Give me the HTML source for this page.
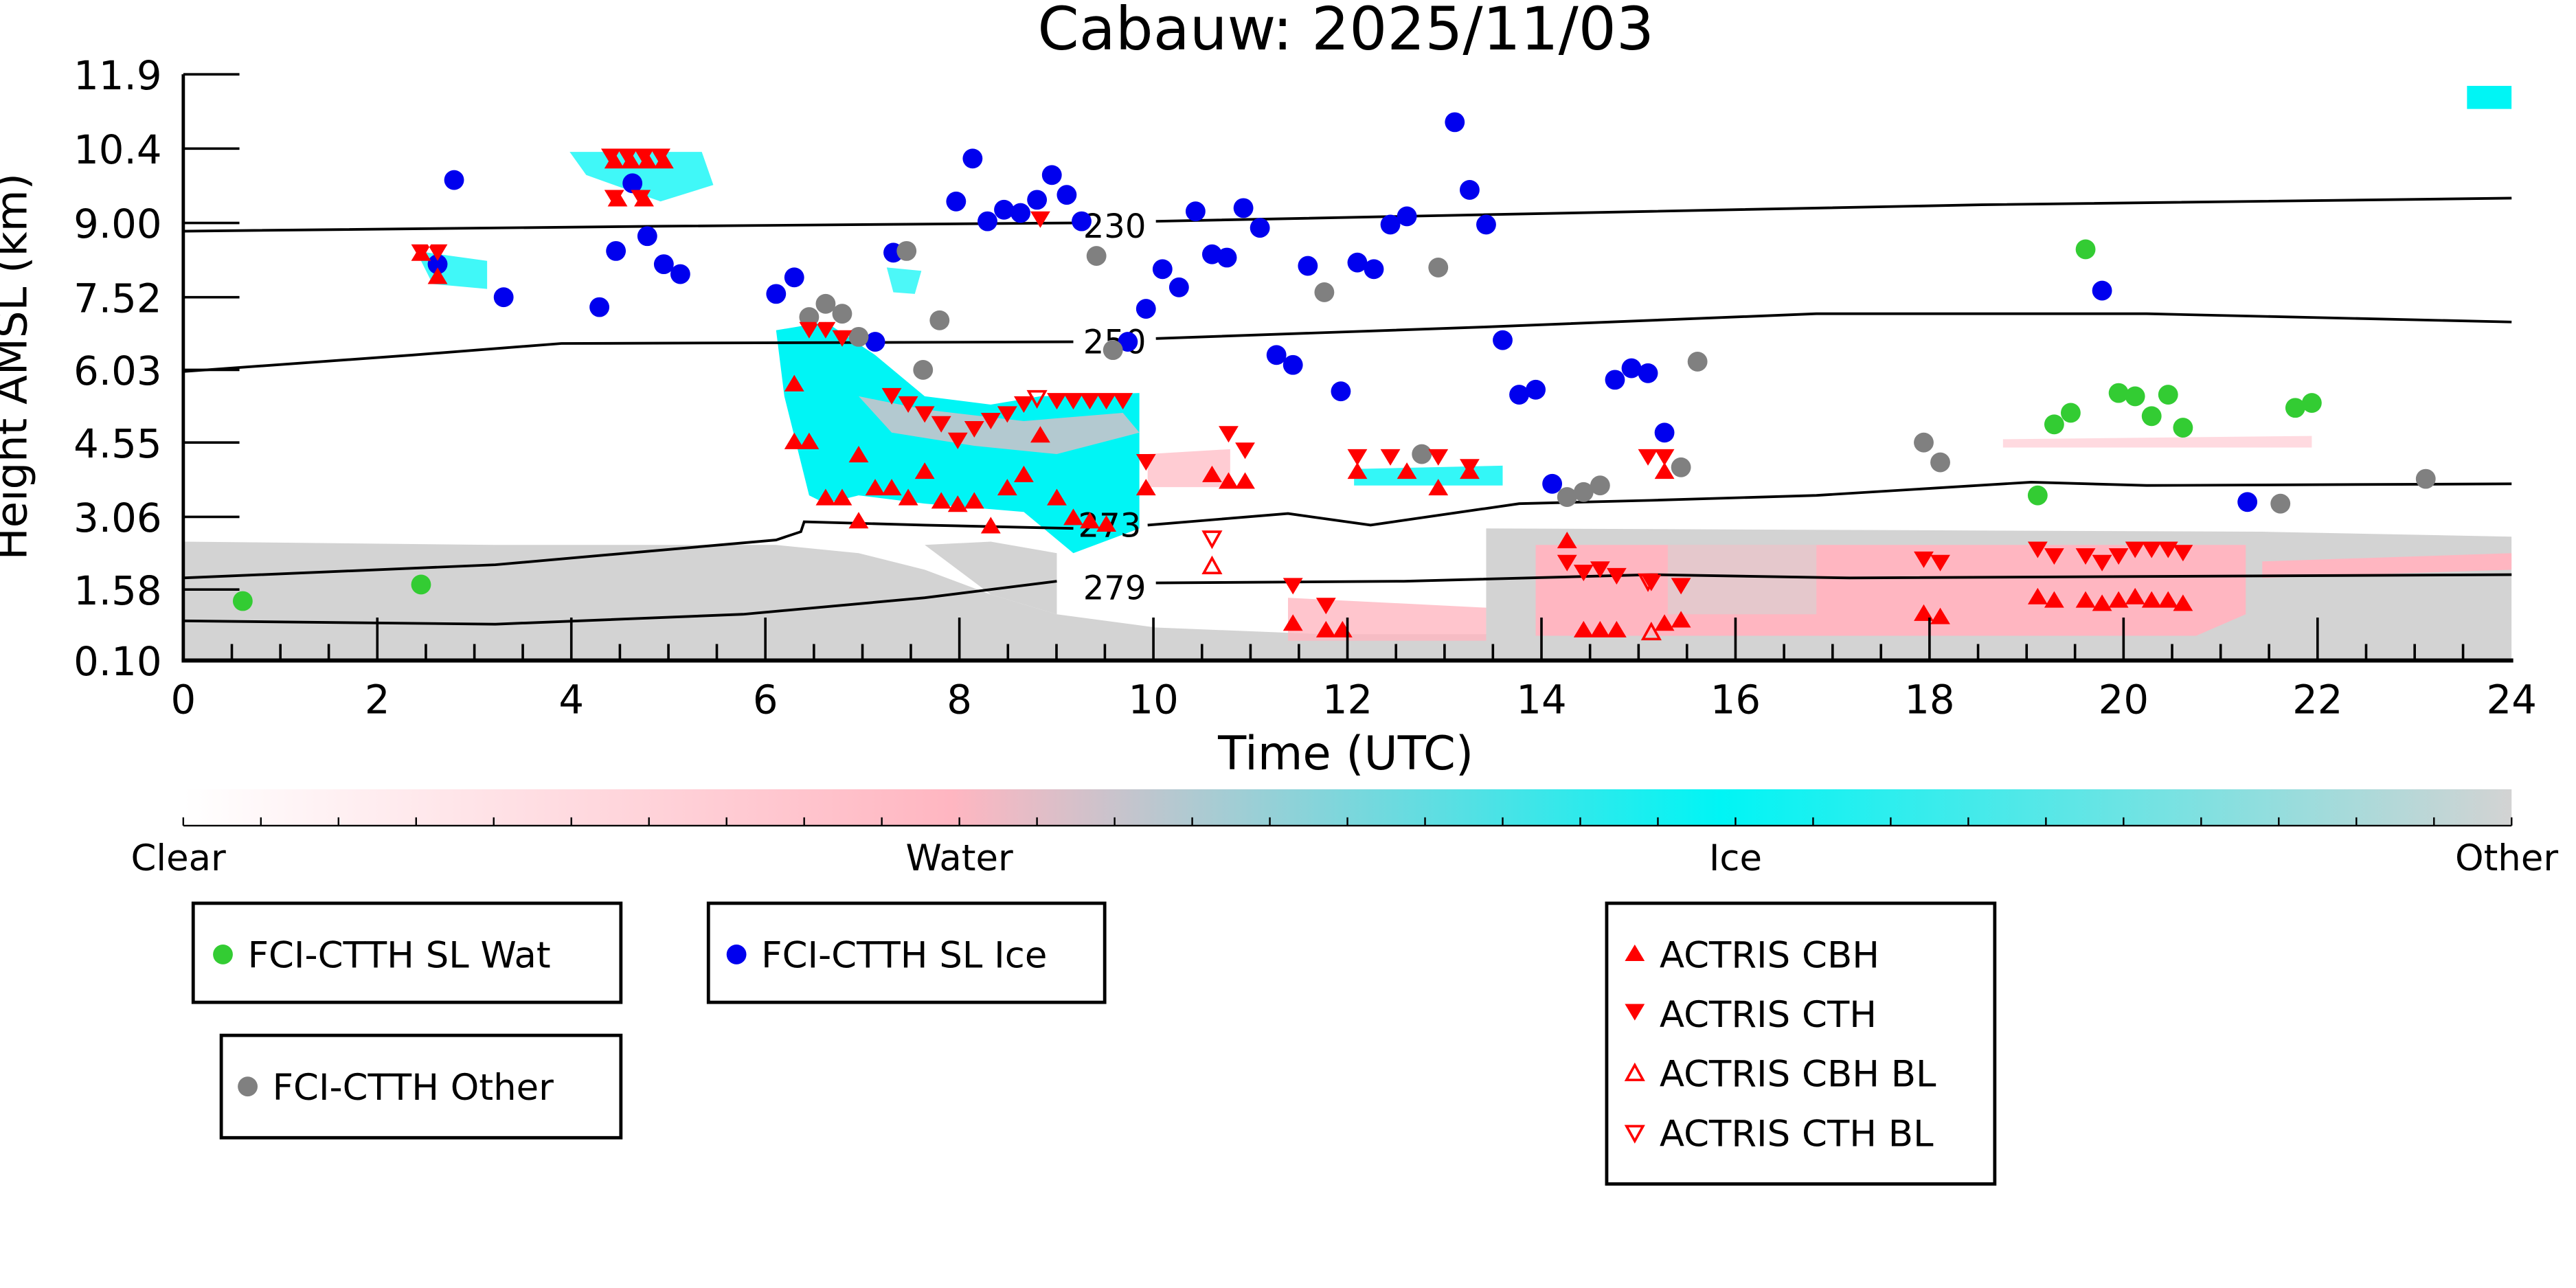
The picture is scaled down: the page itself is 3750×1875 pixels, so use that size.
<!DOCTYPE html>
<html><head><meta charset="utf-8"><style>
html,body{margin:0;padding:0;background:#fff;}
svg{display:block;}
text{font-family:"DejaVu Sans","Liberation Sans",sans-serif;}
</style></head><body>
<svg width="3750" height="1875" viewBox="0 0 1560 780" xmlns="http://www.w3.org/2000/svg">
<defs>
<linearGradient id="cb" x1="0" x2="1" y1="0" y2="0">
<stop offset="0" stop-color="#ffffff"/>
<stop offset="0.33" stop-color="#ffb6c1"/>
<stop offset="0.66" stop-color="#00f5f5"/>
<stop offset="1" stop-color="#d3d3d3"/>
</linearGradient>
<clipPath id="pa"><rect x="111" y="45" width="1410" height="355"/></clipPath>
</defs>
<rect width="1560" height="780" fill="#fff"/>
<text x="815" y="30" font-size="36" text-anchor="middle">Cabauw: 2025/11/03</text>
<g clip-path="url(#pa)">
<polygon fill="#d3d3d3" points="111,328 300,330 470,330 520,335 560,345 600,360 640,372 700,380 800,384 900,384 900,320 1370,322 1521,325 1521,400 111,400"/>
<polygon fill="#d3d3d3" points="560,330 600,328 640,335 640,372 600,360"/>
<polygon fill="#ffb6c1" points="930,330 1360,330 1360,372 1330,385 930,385"/>
<polygon fill="#d3d3d3" opacity="0.6" points="1010,330 1100,330 1100,372 1010,372"/>
<polygon fill="#ffb6c1" points="1370,340 1521,335 1521,345 1370,350"/>
<polygon fill="#ffb6c1" opacity="0.8" points="780,362 900,368 900,388 780,388"/>
<polygon fill="#ffb6c1" opacity="0.7" points="695,275 745,272 745,295 695,295"/>
<polygon fill="#00f5f5" points="470,200 500,195 530,215 560,240 600,245 630,240 690,238 690,320 650,335 620,310 560,305 520,300 500,305 490,300 475,240"/>
<polygon fill="#ffb6c1" opacity="0.7" points="520,240 560,248 620,255 680,250 690,262 640,275 590,270 540,262"/>
<polygon fill="#00f5f5" opacity="0.75" points="345,92 425,92 432,112 400,122 355,106"/>
<polygon fill="#00f5f5" opacity="0.75" points="252,152 295,158 295,175 262,172"/>
<polygon fill="#00f5f5" opacity="0.8" points="820,284 910,282 910,294 820,294"/>
<polygon fill="#00f5f5" points="1494,52 1521,52 1521,66 1494,66"/>
<polygon fill="#ffb6c1" opacity="0.5" points="1213,266 1400,264 1400,271 1213,271"/>
<polygon fill="#00f5f5" opacity="0.7" points="537,162 558,164 554,178 541,177"/>
</g>
<g fill="none" stroke="#000" stroke-width="1.6">
<polyline points="111,140 400,137 650,135"/><polyline points="700,134 1000,128 1200,124 1521,120"/>
<polyline points="111,225 250,215 340,208 650,207"/><polyline points="700,205 900,198 1100,190 1300,190 1521,195"/>
<polyline points="111,350 300,342 470,327 485,322 487,316 560,318 650,320"/><polyline points="695,318 780,311 830,318 920,305 1000,303 1100,300 1230,292 1300,294 1521,293"/>
<polyline points="111,376 300,378 450,372 560,362 640,352"/><polyline points="700,353 850,352 1000,348 1120,350 1521,348"/>
</g>
<g font-size="20" text-anchor="middle">
<text x="675" y="144">230</text><text x="675" y="214">250</text><text x="672" y="325">273</text><text x="675" y="363">279</text>
</g>
<g fill="#0000ee">
<circle cx="275" cy="109" r="6"/><circle cx="305" cy="180" r="6"/><circle cx="363" cy="186" r="6"/><circle cx="373" cy="152" r="6"/><circle cx="383" cy="111" r="6"/><circle cx="392" cy="143" r="6"/><circle cx="402" cy="160" r="6"/><circle cx="412" cy="166" r="6"/><circle cx="470" cy="178" r="6"/><circle cx="481" cy="168" r="6"/><circle cx="530" cy="207" r="6"/><circle cx="541" cy="153" r="6"/><circle cx="589" cy="96" r="6"/><circle cx="579" cy="122" r="6"/><circle cx="598" cy="134" r="6"/><circle cx="608" cy="127" r="6"/><circle cx="618" cy="129" r="6"/><circle cx="628" cy="121" r="6"/><circle cx="637" cy="106" r="6"/><circle cx="646" cy="118" r="6"/><circle cx="655" cy="134" r="6"/><circle cx="694" cy="187" r="6"/><circle cx="704" cy="163" r="6"/><circle cx="714" cy="174" r="6"/><circle cx="724" cy="128" r="6"/><circle cx="734" cy="154" r="6"/><circle cx="743" cy="156" r="6"/><circle cx="753" cy="126" r="6"/><circle cx="763" cy="138" r="6"/><circle cx="773" cy="215" r="6"/><circle cx="783" cy="221" r="6"/><circle cx="792" cy="161" r="6"/><circle cx="812" cy="237" r="6"/><circle cx="822" cy="159" r="6"/><circle cx="832" cy="163" r="6"/><circle cx="842" cy="136" r="6"/><circle cx="852" cy="131" r="6"/><circle cx="881" cy="74" r="6"/><circle cx="890" cy="115" r="6"/><circle cx="900" cy="136" r="6"/><circle cx="910" cy="206" r="6"/><circle cx="920" cy="239" r="6"/><circle cx="930" cy="236" r="6"/><circle cx="940" cy="293" r="6"/><circle cx="978" cy="230" r="6"/><circle cx="988" cy="223" r="6"/><circle cx="998" cy="226" r="6"/><circle cx="1008" cy="262" r="6"/><circle cx="1273" cy="176" r="6"/><circle cx="1361" cy="304" r="6"/><circle cx="265" cy="160" r="6"/><circle cx="683" cy="207" r="6"/>
</g>
<g fill="#808080">
<circle cx="490" cy="192" r="6"/><circle cx="500" cy="184" r="6"/><circle cx="510" cy="190" r="6"/><circle cx="520" cy="204" r="6"/><circle cx="549" cy="152" r="6"/><circle cx="569" cy="194" r="6"/><circle cx="559" cy="224" r="6"/><circle cx="664" cy="155" r="6"/><circle cx="674" cy="212" r="6"/><circle cx="802" cy="177" r="6"/><circle cx="871" cy="162" r="6"/><circle cx="861" cy="275" r="6"/><circle cx="949" cy="301" r="6"/><circle cx="959" cy="298" r="6"/><circle cx="969" cy="294" r="6"/><circle cx="1018" cy="283" r="6"/><circle cx="1028" cy="219" r="6"/><circle cx="1165" cy="268" r="6"/><circle cx="1175" cy="280" r="6"/><circle cx="1381" cy="305" r="6"/><circle cx="1469" cy="290" r="6"/>
</g>
<g fill="#33cc33">
<circle cx="147" cy="364" r="6"/><circle cx="255" cy="354" r="6"/><circle cx="1263" cy="151" r="6"/><circle cx="1234" cy="300" r="6"/><circle cx="1244" cy="257" r="6"/><circle cx="1254" cy="250" r="6"/><circle cx="1283" cy="238" r="6"/><circle cx="1293" cy="240" r="6"/><circle cx="1303" cy="252" r="6"/><circle cx="1313" cy="239" r="6"/><circle cx="1322" cy="259" r="6"/><circle cx="1390" cy="247" r="6"/><circle cx="1400" cy="244" r="6"/>
</g>
<g fill="#ff0000">
<path d="M255,148 l-6,10 h12z M265,162 l-6,10 h12z"/>
<path d="M255,158 l-6,-10 h12z M265,148 l-6,0 6,10 6,-10z"/>
<path d="M372,92 l-6,10 h12z M382,92 l-6,10 h12z M392,92 l-6,10 h12z M402,92 l-6,10 h12z M374,115 l-6,10 h12z M390,115 l-6,10 h12z"/>
<path d="M370,100 l-6,-10 h12z M380,100 l-6,-10 h12z M390,100 l-6,-10 h12z M400,100 l-6,-10 h12z M372,125 l-6,-10 h12z M388,125 l-6,-10 h12z"/>
</g>
<g fill="#ff0000">
<path d="M481,227l-6,10h12z M490,262l-6,10h12z M500,296l-6,10h12z M510,296l-6,10h12z M520,310l-6,10h12z M530,290l-6,10h12z M540,290l-6,10h12z M550,296l-6,10h12z M560,280l-6,10h12z M570,298l-6,10h12z M580,300l-6,10h12z M590,298l-6,10h12z M600,313l-6,10h12z M610,290l-6,10h12z M620,282l-6,10h12z M630,258l-6,10h12z M640,296l-6,10h12z M650,308l-6,10h12z M660,310l-6,10h12z M670,312l-6,10h12z M694,290l-6,10h12z M734,282l-6,10h12z M744,286l-6,10h12z M754,286l-6,10h12z M783,372l-6,10h12z M803,376l-6,10h12z M813,376l-6,10h12z M822,280l-6,10h12z M852,280l-6,10h12z M871,290l-6,10h12z M890,280l-6,10h12z M949,322l-6,10h12z M959,376l-6,10h12z M969,376l-6,10h12z M979,376l-6,10h12z M1008,372l-6,10h12z M1018,370l-6,10h12z M1008,280l-6,10h12z M1165,366l-6,10h12z M1175,368l-6,10h12z M1234,356l-6,10h12z M1244,358l-6,10h12z M1263,358l-6,10h12z M1273,360l-6,10h12z M1283,358l-6,10h12z M1293,356l-6,10h12z M1303,358l-6,10h12z M1313,358l-6,10h12z M1322,360l-6,10h12z M481,262l-6,10h12z M520,270l-6,10h12z"/>
<path d="M490,195l6,0-6,10-6,-10z M500,195l-6,0 6,10 6,-10z M510,200l-6,0 6,10 6,-10z M540,235l-6,0 6,10 6,-10z M550,240l-6,0 6,10 6,-10z M560,246l-6,0 6,10 6,-10z M570,252l-6,0 6,10 6,-10z M580,262l-6,0 6,10 6,-10z M590,255l-6,0 6,10 6,-10z M600,250l-6,0 6,10 6,-10z M610,246l-6,0 6,10 6,-10z M620,240l-6,0 6,10 6,-10z M640,238l-6,0 6,10 6,-10z M650,238l-6,0 6,10 6,-10z M660,238l-6,0 6,10 6,-10z M670,238l-6,0 6,10 6,-10z M680,238l-6,0 6,10 6,-10z M694,275l-6,0 6,10 6,-10z M744,258l-6,0 6,10 6,-10z M754,268l-6,0 6,10 6,-10z M783,350l-6,0 6,10 6,-10z M803,362l-6,0 6,10 6,-10z M822,272l-6,0 6,10 6,-10z M842,272l-6,0 6,10 6,-10z M871,272l-6,0 6,10 6,-10z M890,278l-6,0 6,10 6,-10z M949,336l-6,0 6,10 6,-10z M959,342l-6,0 6,10 6,-10z M969,340l-6,0 6,10 6,-10z M979,344l-6,0 6,10 6,-10z M1000,348l-6,0 6,10 6,-10z M1018,350l-6,0 6,10 6,-10z M998,272l-6,0 6,10 6,-10z M1008,272l-6,0 6,10 6,-10z M1165,334l-6,0 6,10 6,-10z M1175,336l-6,0 6,10 6,-10z M1234,328l-6,0 6,10 6,-10z M1244,332l-6,0 6,10 6,-10z M1263,332l-6,0 6,10 6,-10z M1273,336l-6,0 6,10 6,-10z M1283,332l-6,0 6,10 6,-10z M1293,328l-6,0 6,10 6,-10z M1303,328l-6,0 6,10 6,-10z M1313,328l-6,0 6,10 6,-10z M1322,330l-6,0 6,10 6,-10z M630,128l-6,0 6,10 6,-10z"/>
</g>
<g fill="none" stroke="#ff0000" stroke-width="1.5">
<path d="M734,338l-5,9h10z M734,322l-5,0 5,9 5,-9z M628,237l-5,0 5,9 5,-9z M1000,378l-5,9h10z M998,348l-5,0 5,9 5,-9z"/>
</g>
<g stroke="#000" fill="none">
<line x1="111" y1="45" x2="111" y2="400" stroke-width="2"/>
<line x1="110" y1="400" x2="1522" y2="400" stroke-width="2.5"/>
<g stroke-width="1.5">
<path d="M111,45h34 M111,90h34 M111,135h34 M111,180h34 M111,224h34 M111,268h34 M111,313h34 M111,357h34"/>
<path d="M228.5,400v-26 M346,400v-26 M463.5,400v-26 M581,400v-26 M698.5,400v-26 M816,400v-26 M933.5,400v-26 M1051,400v-26 M1168.5,400v-26 M1286,400v-26 M1403.5,400v-26"/>
<path d="M140.4,400v-10 M169.8,400v-10 M199.1,400v-10 M257.9,400v-10 M287.3,400v-10 M316.6,400v-10 M375.4,400v-10 M404.8,400v-10 M434.1,400v-10 M492.9,400v-10 M522.3,400v-10 M551.6,400v-10 M610.4,400v-10 M639.8,400v-10 M669.1,400v-10 M727.9,400v-10 M757.3,400v-10 M786.6,400v-10 M845.4,400v-10 M874.8,400v-10 M904.1,400v-10 M962.9,400v-10 M992.3,400v-10 M1021.6,400v-10 M1080.4,400v-10 M1109.8,400v-10 M1139.1,400v-10 M1197.9,400v-10 M1227.3,400v-10 M1256.6,400v-10 M1315.4,400v-10 M1344.8,400v-10 M1374.1,400v-10 M1432.9,400v-10 M1462.3,400v-10 M1491.6,400v-10"/>
</g>
</g>
<g font-size="24" text-anchor="end">
<text x="98" y="54">11.9</text><text x="98" y="99">10.4</text><text x="98" y="144">9.00</text><text x="98" y="189">7.52</text><text x="98" y="233">6.03</text><text x="98" y="277">4.55</text><text x="98" y="322">3.06</text><text x="98" y="366">1.58</text><text x="98" y="409">0.10</text>
</g>
<g font-size="24" text-anchor="middle">
<text x="111" y="432">0</text><text x="228.5" y="432">2</text><text x="346" y="432">4</text><text x="463.5" y="432">6</text><text x="581" y="432">8</text><text x="698.5" y="432">10</text><text x="816" y="432">12</text><text x="933.5" y="432">14</text><text x="1051" y="432">16</text><text x="1168.5" y="432">18</text><text x="1286" y="432">20</text><text x="1403.5" y="432">22</text><text x="1521" y="432">24</text>
</g>
<text x="815" y="466" font-size="28" text-anchor="middle">Time (UTC)</text>
<text transform="translate(16,222) rotate(-90)" font-size="26" text-anchor="middle">Height AMSL (km)</text>
<rect x="111" y="478" width="1410" height="22" fill="url(#cb)"/>
<line x1="111" y1="500" x2="1521" y2="500" stroke="#000" stroke-width="1"/>
<path stroke="#000" stroke-width="1" d="M111,500v-5 M158,500v-5 M205,500v-5 M252,500v-5 M299,500v-5 M346,500v-5 M393,500v-5 M440,500v-5 M487,500v-5 M534,500v-5 M581,500v-5 M628,500v-5 M675,500v-5 M722,500v-5 M769,500v-5 M816,500v-5 M863,500v-5 M910,500v-5 M957,500v-5 M1004,500v-5 M1051,500v-5 M1098,500v-5 M1145,500v-5 M1192,500v-5 M1239,500v-5 M1286,500v-5 M1333,500v-5 M1380,500v-5 M1427,500v-5 M1474,500v-5 M1521,500v-5"/>
<g font-size="22" text-anchor="middle">
<text x="108" y="527">Clear</text><text x="581" y="527">Water</text><text x="1051" y="527">Ice</text><text x="1518" y="527">Other</text>
</g>
<g fill="#fff" stroke="#000" stroke-width="2">
<rect x="117" y="547" width="259" height="60"/>
<rect x="429" y="547" width="240" height="60"/>
<rect x="134" y="627" width="242" height="62"/>
<rect x="973" y="547" width="235" height="170"/>
</g>
<g font-size="22">
<circle cx="135" cy="578" r="6" fill="#33cc33"/><text x="150" y="586">FCI-CTTH SL Wat</text>
<circle cx="446" cy="578" r="6" fill="#0000ee"/><text x="461" y="586">FCI-CTTH SL Ice</text>
<circle cx="150" cy="658" r="6" fill="#808080"/><text x="165" y="666">FCI-CTTH Other</text>
<path d="M990,572l-6,10h12z" fill="#ff0000"/><text x="1005" y="586">ACTRIS CBH</text>
<path d="M984,608h12l-6,10z" fill="#ff0000"/><text x="1005" y="622">ACTRIS CTH</text>
<path d="M990,645l-5,9h10z" fill="none" stroke="#ff0000" stroke-width="1.5"/><text x="1005" y="658">ACTRIS CBH BL</text>
<path d="M985,682h10l-5,9z" fill="none" stroke="#ff0000" stroke-width="1.5"/><text x="1005" y="694">ACTRIS CTH BL</text>
</g>
</svg>
</body></html>
